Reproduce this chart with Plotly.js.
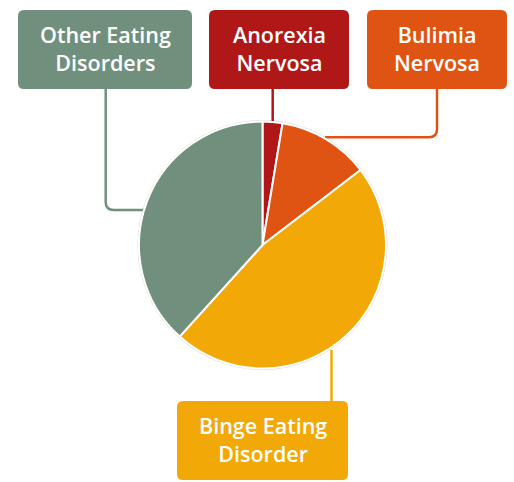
<!DOCTYPE html>
<html>
<head>
<meta charset="utf-8">
<script src="https://cdn.plot.ly/plotly-3.0.1.min.js"></script>
<style>html,body{margin:0;padding:0;background:#fff;}#chart{width:514px;height:482px;}</style>
</head>
<body>
<div id="chart"></div>
<script>
// Data
var labels = ["Anorexia Nervosa", "Bulimia Nervosa", "Binge Eating Disorder", "Other Eating Disorders"];
var boxText = ["Anorexia<br>Nervosa", "Bulimia<br>Nervosa", "Binge Eating<br>Disorder", "Other Eating<br>Disorders"];
var values = [2.6, 12, 47.1, 38.3];
var colors = ["#b01818", "#e05413", "#f2a807", "#70907d"];

// Layout (pixel coordinates)
var W = 514, H = 482;
var cx = 262.5, cy = 245, R = 123.5;
var boxes = [
  [209, 10, 349, 89],
  [367, 10, 507, 89],
  [177, 401, 348, 480],
  [18, 10, 192, 89]
];

function rrect(b, r) {
  var x0=b[0], y0=b[1], x1=b[2], y1=b[3];
  return "M"+(x0+r)+","+y0+" L"+(x1-r)+","+y0+" Q"+x1+","+y0+" "+x1+","+(y0+r)+
    " L"+x1+","+(y1-r)+" Q"+x1+","+y1+" "+(x1-r)+","+y1+
    " L"+(x0+r)+","+y1+" Q"+x0+","+y1+" "+x0+","+(y1-r)+
    " L"+x0+","+(y0+r)+" Q"+x0+","+y0+" "+(x0+r)+","+y0+" Z";
}

var connectors = [
  "M272.7,89 L272.7,121",
  "M437,89 L437,129.3 Q437,137.3 429,137.3 L325,137.3",
  "M331.5,350 L331.5,401",
  "M105.7,89 L105.7,202 Q105.7,210 113.7,210 L144,210"
];

var shapes = [];
shapes.push({type:"circle", xref:"x", yref:"y", x0:cx-R-1, x1:cx+R+1, y0:cy-R-1, y1:cy+R+1,
  line:{color:"#d9d9d9", width:1}, fillcolor:"rgba(0,0,0,0)", layer:"below"});
for (var i=0;i<connectors.length;i++) {
  shapes.push({type:"path", xref:"x", yref:"y", path:connectors[i], line:{color:colors[i], width:2.5}, layer:"below"});
}
for (var i=0;i<boxes.length;i++) {
  shapes.push({type:"path", xref:"x", yref:"y", path:rrect(boxes[i], 6), fillcolor:colors[i], line:{width:0}, layer:"above"});
}

var annotations = boxes.map(function(b, i) {
  return {x:(b[0]+b[2])/2, y:(b[1]+b[3])/2 - 1.5, xref:"x", yref:"y", text:boxText[i], showarrow:false,
    font:{family:"Open Sans, sans-serif", size:21.5, color:"#ffffff", weight:600}, align:"center"};
});

var trace = {
  type:"pie",
  labels:labels,
  values:values,
  sort:false,
  direction:"clockwise",
  rotation:0,
  marker:{colors:colors, line:{color:"#ffffff", width:2}},
  textinfo:"none",
  hoverinfo:"none",
  showlegend:false,
  domain:{x:[(cx-R)/W, (cx+R)/W], y:[(H-cy-R)/H, (H-cy+R)/H]}
};

var layout = {
  width:W, height:H,
  margin:{l:0,r:0,t:0,b:0},
  paper_bgcolor:"#ffffff", plot_bgcolor:"rgba(0,0,0,0)",
  xaxis:{range:[0,W], visible:false, fixedrange:true},
  yaxis:{range:[H,0], visible:false, fixedrange:true},
  shapes:shapes,
  annotations:annotations,
  showlegend:false
};

Plotly.newPlot("chart", [trace], layout, {displayModeBar:false, staticPlot:true});
</script>
</body>
</html>
